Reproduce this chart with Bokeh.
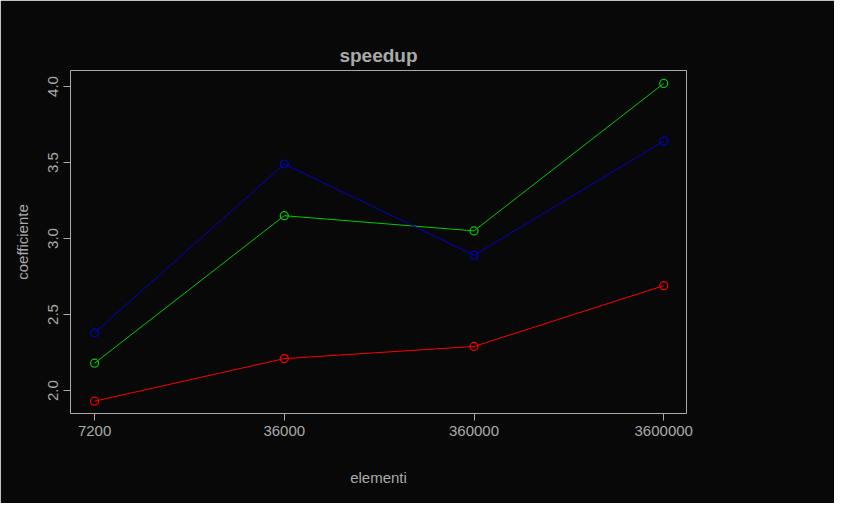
import math
from bokeh.plotting import figure
from bokeh.models import Range1d, FixedTicker, Legend, LegendItem
from bokeh.embed import file_html
from bokeh.resources import INLINE

elementi = ["7200", "36000", "360000", "3600000"]
p2 = [1.93, 2.21, 2.29, 2.69]
p4 = [2.18, 3.15, 3.05, 4.02]
p8 = [2.38, 3.49, 2.89, 3.64]
yticks = [2.0, 2.5, 3.0, 3.5, 4.0]

bg = "#080808"
fg = "#aaaaaa"
xs = list(range(len(elementi)))

p = figure(width=834, height=503, output_backend="svg", toolbar_location=None,
           x_range=Range1d(-0.127, 3.12), y_range=Range1d(1.849, 4.105),
           min_border_left=70, min_border_right=148, min_border_top=70, min_border_bottom=90,
           title="speedup")
p.background_fill_color = bg
p.border_fill_color = bg
p.outline_line_color = fg
p.grid.visible = False
p.title.align = "center"
p.title.text_color = fg
p.title.text_font = "Liberation Sans"
p.title.text_font_size = "19px"
p.title.offset = -5

for ax in (p.xaxis[0], p.yaxis[0]):
    ax.axis_line_color = None
    ax.major_tick_line_color = fg
    ax.minor_tick_line_color = None
    ax.major_tick_in = 0
    ax.major_tick_out = 7
    ax.major_label_text_color = fg
    ax.major_label_text_font = "Liberation Sans"
    ax.major_label_text_font_size = "15px"
    ax.axis_label_text_color = fg
    ax.axis_label_text_font = "Liberation Sans"
    ax.axis_label_text_font_size = "15px"
    ax.axis_label_text_font_style = "normal"

p.xaxis.ticker = FixedTicker(ticks=xs)
p.xaxis.major_label_overrides = {i: s for i, s in enumerate(elementi)}
p.xaxis.axis_label = "elementi"
p.xaxis.axis_label_standoff = 30
p.yaxis.ticker = FixedTicker(ticks=yticks)
p.yaxis.major_label_overrides = {t: f"{t:.1f}" for t in yticks}
p.yaxis.major_label_orientation = "vertical"
p.yaxis.axis_label = "coefficiente"
p.yaxis.axis_label_standoff = 15

items = []
for name, vals, col in [("2", p2, "red"), ("4", p4, "#00cc00"), ("8", p8, "#0000cc")]:
    p.line(xs, vals, line_color=col, line_width=1)
    s = p.scatter(xs, vals, size=8, fill_color=None, line_color=col, line_width=1.2)
    items.append(LegendItem(label=name, renderers=[s]))

leg = Legend(items=items, title="processi", location=(687, 280),
             background_fill_color="#020202", border_line_color="#1a1a1a",
             label_text_color=fg, title_text_color=fg, label_text_font_size="12px",
             title_text_font_size="12px", title_text_font_style="normal",
             label_height=12, glyph_height=12, glyph_width=16, spacing=0,
             padding=4, margin=0, label_standoff=6)
p.add_layout(leg)

open("out.html", "w").write(file_html(p, INLINE))
